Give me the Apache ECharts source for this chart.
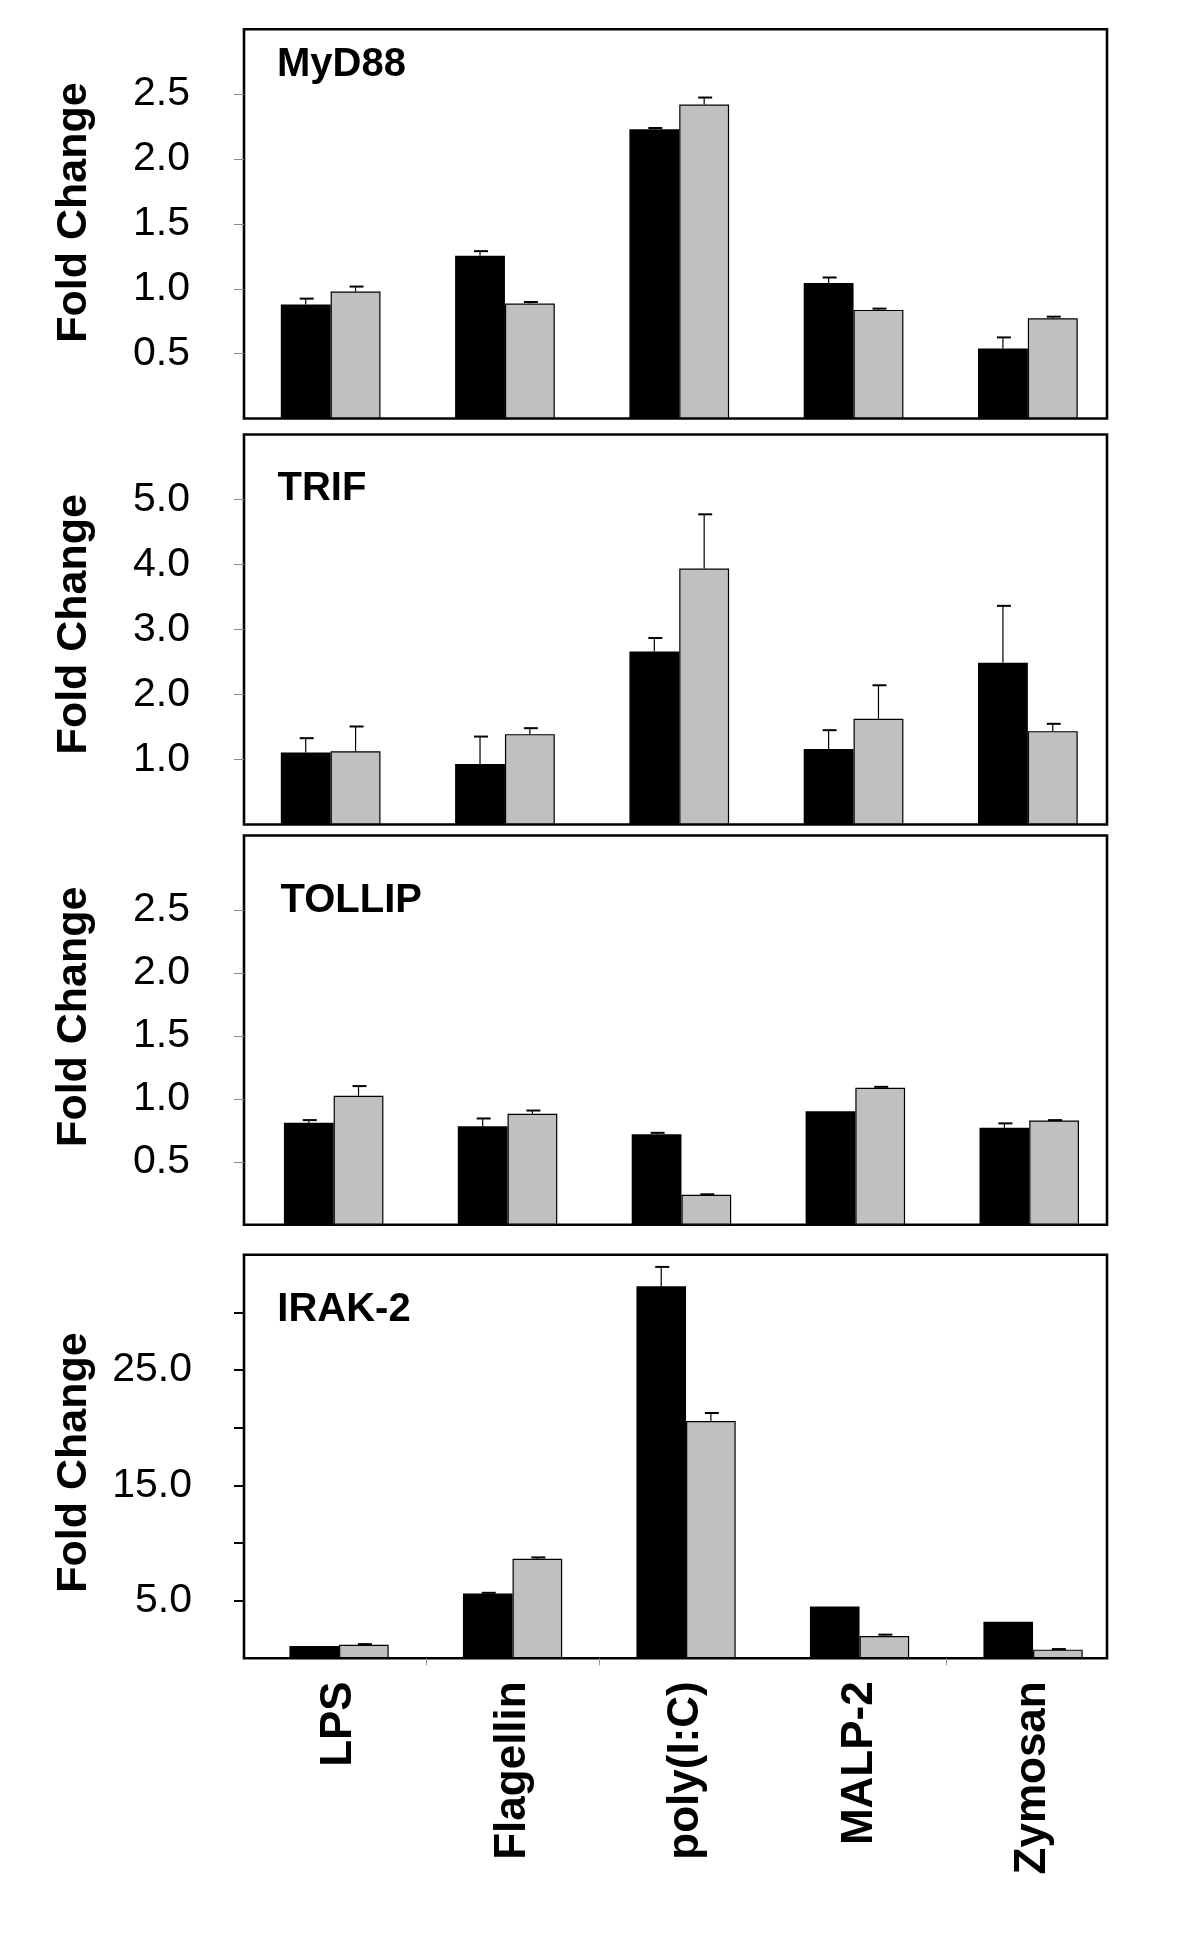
<!DOCTYPE html>
<html>
<head>
<meta charset="utf-8">
<script src="https://cdn.jsdelivr.net/npm/echarts@6/dist/echarts.min.js"></script>
<style>
html,body{margin:0;padding:0;background:#fff;}
#chart{width:1200px;height:1939px;}
</style>
</head>
<body>
<div id="chart"></div>
<script>
// ---------------- DATA ----------------
const categories = ['LPS', 'Flagellin', 'poly(I:C)', 'MALP-2', 'Zymosan'];
const panelNames = ['MyD88', 'TRIF', 'TOLLIP', 'IRAK-2'];
const yAxisTitle = 'Fold Change';

// MyD88
const myd88Black    = [0.878, 1.254, 2.229, 1.045, 0.540];
const myd88BlackErr = [0.046, 0.036, 0.010, 0.042, 0.085];
const myd88Gray     = [0.978, 0.886, 2.420, 0.837, 0.772];
const myd88GrayErr  = [0.039, 0.012, 0.054, 0.010, 0.013];
// TRIF
const trifBlack     = [1.106, 0.931, 2.663, 1.163, 2.488];
const trifBlackErr  = [0.222, 0.422, 0.206, 0.288, 0.876];
const trifGray      = [1.127, 1.390, 3.937, 1.627, 1.436];
const trifGrayErr   = [0.381, 0.092, 0.835, 0.515, 0.113];
// TOLLIP
const tollipBlack    = [0.810, 0.783, 0.719, 0.902, 0.770];
const tollipBlackErr = [0.021, 0.061, 0.011, 0.000, 0.035];
const tollipGray     = [1.024, 0.881, 0.239, 1.087, 0.828];
const tollipGrayErr  = [0.077, 0.026, 0.003, 0.008, 0.003];
// IRAK-2
const irakBlack    = [1.07, 5.62, 32.26, 4.49, 3.16];
const irakBlackErr = [0.00, 0.06, 1.68, 0.00, 0.00];
const irakGray     = [1.18, 8.63, 20.57, 1.94, 0.75];
const irakGrayErr  = [0.05, 0.12, 0.70, 0.11, 0.05];

// y axis scales per panel
const yMin = [0, 0, 0, 0];
const yMax = [3, 6, 3.09, 35];
const yInterval = [0.5, 1, 0.5, 5];
// printed tick labels and tick mark values
const yTickLabels1 = ['0.5', '1.0', '1.5', '2.0', '2.5'];
const yTickLabels2 = ['1.0', '2.0', '3.0', '4.0', '5.0'];
const yTickLabels3 = ['0.5', '1.0', '1.5', '2.0', '2.5'];
const yTickLabels4 = ['5.0', '15.0', '25.0'];
const yTicks1 = [0.5, 1, 1.5, 2, 2.5];
const yTicks2 = [1, 2, 3, 4, 5];
const yTicks3 = [0.5, 1, 1.5, 2, 2.5];
const yTicks4 = [5, 10, 15, 20, 25, 30];
// category boundaries that carry a tick mark (bottom panel)
const xBoundaryTicks = [1, 2, 4];

// ---------------- LAYOUT / STYLE ----------------
const panels = [
  {black: myd88Black, blackErr: myd88BlackErr, gray: myd88Gray, grayErr: myd88GrayErr, labels: yTickLabels1, ticks: yTicks1},
  {black: trifBlack, blackErr: trifBlackErr, gray: trifGray, grayErr: trifGrayErr, labels: yTickLabels2, ticks: yTicks2},
  {black: tollipBlack, blackErr: tollipBlackErr, gray: tollipGray, grayErr: tollipGrayErr, labels: yTickLabels3, ticks: yTicks3},
  {black: irakBlack, blackErr: irakBlackErr, gray: irakGray, grayErr: irakGrayErr, labels: yTickLabels4, ticks: yTicks4}
];
const layout = [
  {top: 29.3,   height: 389.2, frameLeft: 244, frameWidth: 863, dataLeft: 243.5, dataWidth: 871.5, titleX: 277, titleY: 64.5,  nameY: 212.5},
  {top: 434.5,  height: 390.0, frameLeft: 244, frameWidth: 863, dataLeft: 243.5, dataWidth: 871.5, titleX: 277.5, titleY: 488.5, nameY: 624.2},
  {top: 835.5,  height: 389.3, frameLeft: 244, frameWidth: 863, dataLeft: 246.7, dataWidth: 869.5, titleX: 280.5, titleY: 900.5, nameY: 1016.7},
  {top: 1254.7, height: 403.6, frameLeft: 244, frameWidth: 863, dataLeft: 252.3, dataWidth: 867.5, titleX: 277.3, titleY: 1309.5, nameY: 1462.5}
];
const FONT = "'Liberation Sans', Arial, Helvetica, sans-serif";
const BAR_FRAC = 0.286;

const chart = echarts.init(document.getElementById('chart'), null, {renderer: 'canvas'});

const grid = [], xAxis = [], yAxis = [], series = [], graphic = [];

function errRender(side) {
  return function (params, api) {
    const ci = api.value(0), v = api.value(1), e = api.value(2);
    if (!(e > 0)) return null;
    const base = api.coord([ci, v]);
    const top = api.coord([ci, v + e]);
    const band = api.size([1, 0])[0];
    const x = base[0] + side * band * BAR_FRAC / 2;
    return {
      type: 'group',
      children: [
        {type: 'line', shape: {x1: x, y1: base[1], x2: x, y2: top[1]}, style: {stroke: '#000', lineWidth: 1.2}},
        {type: 'line', shape: {x1: x - 6, y1: top[1], x2: x + 8, y2: top[1]}, style: {stroke: '#000', lineWidth: 2}}
      ]
    };
  };
}

panels.forEach(function (p, i) {
  const L = layout[i];
  const isLast = i === panels.length - 1;
  const nCat = categories.length;
  const band = L.dataWidth / nCat;
  // frame grid (its hidden x scale is measured in category-boundary units)
  grid.push({left: L.frameLeft, top: L.top, width: L.frameWidth, height: L.height, show: true,
             borderColor: '#000', borderWidth: 2.6, backgroundColor: 'transparent', containLabel: false, outerBoundsMode: 'none'});
  xAxis.push({
    gridIndex: 2 * i, type: 'value', show: isLast,
    min: (L.frameLeft - L.dataLeft) / band, max: (L.frameLeft + L.frameWidth - L.dataLeft) / band,
    axisLine: {show: false}, splitLine: {show: false}, axisLabel: {show: false},
    axisTick: {show: isLast, length: 7, customValues: xBoundaryTicks, lineStyle: {color: '#999', width: 1}}
  });
  yAxis.push({gridIndex: 2 * i, type: 'value', show: false, min: 0, max: 1});
  // data grid
  grid.push({left: L.dataLeft, top: L.top, width: L.dataWidth, height: L.height, show: false, containLabel: false, outerBoundsMode: 'none'});
  xAxis.push({
    gridIndex: 2 * i + 1, type: 'category', data: categories, boundaryGap: true,
    axisLine: {show: false},
    axisTick: {show: false},
    axisLabel: {show: isLast, rotate: 90, margin: 23, color: '#000', fontFamily: FONT, fontWeight: 'bold', fontSize: 44, interval: 0},
    splitLine: {show: false}
  });
  const labs = p.labels;
  yAxis.push({
    gridIndex: 2 * i + 1, type: 'value', min: yMin[i], max: yMax[i], interval: yInterval[i],
    offset: L.dataLeft - L.frameLeft,
    axisLine: {show: false},
    axisTick: {show: true, inside: false, length: 10, customValues: p.ticks,
               lineStyle: isLast ? {color: '#000', width: 2} : {color: '#888', width: 1}},
    axisLabel: {
      show: true, margin: isLast ? 52 : 54, color: '#000', fontFamily: FONT, fontSize: 41,
      customValues: labs.map(function (s) { return parseFloat(s); }),
      formatter: function (v) {
        const s = Number(v).toFixed(1);
        return labs.indexOf(s) >= 0 ? s : '';
      }
    },
    splitLine: {show: false}
  });
  const xi = 2 * i + 1;
  series.push({
    type: 'bar', xAxisIndex: xi, yAxisIndex: xi, data: p.black, barWidth: (BAR_FRAC * 100) + '%', barGap: '0%',
    itemStyle: {color: '#000', borderColor: '#000', borderWidth: 0}, silent: true, z: 2
  });
  series.push({
    type: 'bar', xAxisIndex: xi, yAxisIndex: xi, data: p.gray, barWidth: (BAR_FRAC * 100) + '%', barGap: '0%',
    itemStyle: {color: '#c0c0c0', borderColor: '#000', borderWidth: 1.2}, silent: true, z: 2
  });
  series.push({
    type: 'custom', xAxisIndex: xi, yAxisIndex: xi, renderItem: errRender(-1), z: 3, silent: true,
    data: p.black.map(function (v, k) { return [k, v, p.blackErr[k]]; })
  });
  series.push({
    type: 'custom', xAxisIndex: xi, yAxisIndex: xi, renderItem: errRender(1), z: 3, silent: true,
    data: p.gray.map(function (v, k) { return [k, v, p.grayErr[k]]; })
  });
  // panel title
  graphic.push({
    type: 'text', x: L.titleX, y: L.titleY, z: 10,
    style: {text: panelNames[i], fill: '#000', font: 'bold 40px ' + FONT,
            textAlign: 'left', textVerticalAlign: 'middle', align: 'left', verticalAlign: 'middle'}
  });
  // y axis title
  graphic.push({
    type: 'text', x: 74, y: L.nameY, rotation: Math.PI / 2, z: 10,
    style: {text: yAxisTitle, fill: '#000', font: 'bold 43px ' + FONT,
            textAlign: 'center', textVerticalAlign: 'middle', align: 'center', verticalAlign: 'middle'}
  });
});

chart.setOption({
  animation: false,
  backgroundColor: '#fff',
  grid: grid, xAxis: xAxis, yAxis: yAxis, series: series, graphic: graphic
});
</script>
</body>
</html>
